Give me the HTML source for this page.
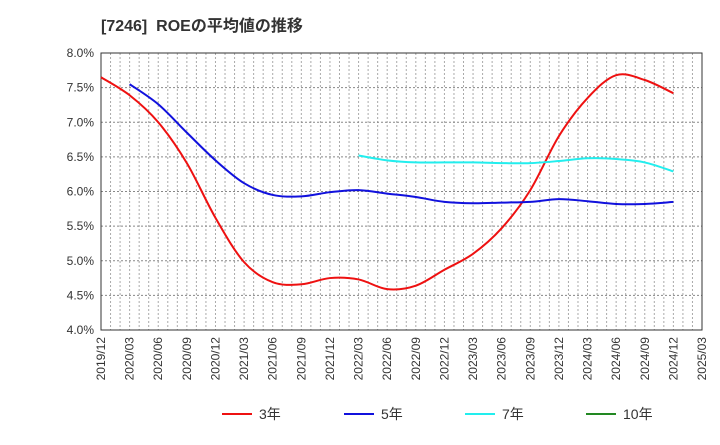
<!DOCTYPE html>
<html><head><meta charset="utf-8"><style>
body{margin:0;background:#fff;font-family:"Liberation Sans","Noto Sans CJK JP",sans-serif}
</style></head><body>
<svg id="c" width="720" height="440" xmlns="http://www.w3.org/2000/svg" font-family="Liberation Sans, Noto Sans CJK JP, sans-serif">
<text x="101" y="31" font-size="16" font-weight="bold" fill="#333" style="white-space:pre">[7246]  ROEの平均値の推移</text>
<g id="grid"></g><g id="axes"></g><g id="series"></g><g id="legend"></g>
</svg>
<script>
const xLabels=["2019/12","2020/03","2020/06","2020/09","2020/12","2021/03","2021/06","2021/09","2021/12","2022/03","2022/06","2022/09","2022/12","2023/03","2023/06","2023/09","2023/12","2024/03","2024/06","2024/09","2024/12","2025/03"];
const yTicks=[4.0,4.5,5.0,5.5,6.0,6.5,7.0,7.5,8.0];
const s3=[7.65,7.39,7.0,6.41,5.62,4.98,4.69,4.66,4.75,4.73,4.59,4.64,4.87,5.10,5.47,6.02,6.80,7.35,7.68,7.61,7.42];
const s5=[null,7.55,7.26,6.85,6.45,6.12,5.95,5.93,5.99,6.02,5.97,5.92,5.85,5.83,5.84,5.85,5.89,5.86,5.82,5.82,5.85];
const s7=[null,null,null,null,null,null,null,null,null,6.52,6.45,6.42,6.42,6.42,6.41,6.41,6.44,6.48,6.47,6.42,6.29];
const s10=[];
const L=101,R=702,T=53,B=330,NS="http://www.w3.org/2000/svg";
const xs=i=>L+(R-L)*i/(xLabels.length-1);
const ys=v=>B-(v-4)/4*(B-T);
function mk(p,t,a){const e=document.createElementNS(NS,t);for(const k in a)e.setAttribute(k,a[k]);document.getElementById(p).appendChild(e);return e;}
const step=(R-L)/((xLabels.length-1)*3);
for(let k=1;k<(xLabels.length-1)*3;k++){const l=mk('grid','line',{x1:L+k*step,x2:L+k*step,y1:T,y2:B,stroke:'#aaa','stroke-dasharray':'2,2','stroke-width':1});

}
yTicks.forEach(v=>{const l=mk('grid','line',{x1:L,x2:R,y1:ys(v),y2:ys(v),stroke:'#888','stroke-dasharray':'2,2','stroke-width':1});


const t=mk('axes','text',{x:L-7,y:ys(v)+4,'text-anchor':'end','font-size':12,fill:'#333'});t.textContent=v.toFixed(1)+'%';

});
const fr=mk('axes','rect',{x:L,y:T,width:R-L,height:B-T,fill:'none',stroke:'#333'});


xLabels.forEach((s,i)=>{const t=mk('axes','text',{transform:`translate(${xs(i)+4},${B+7}) rotate(-90)`,'text-anchor':'end','font-size':12,fill:'#333'});t.textContent=s;

});
function path(arr){const p=[];arr.forEach((v,i)=>{if(v!=null)p.push([xs(i),ys(v)])});if(p.length<2)return'';
let d=`M${p[0][0]},${p[0][1]}`;for(let i=0;i<p.length-1;i++){const p0=p[Math.max(0,i-1)],p1=p[i],p2=p[i+1],p3=p[Math.min(p.length-1,i+2)];
d+=`C${p1[0]+(p2[0]-p0[0])/6},${p1[1]+(p2[1]-p0[1])/6} ${p2[0]-(p3[0]-p1[0])/6},${p2[1]-(p3[1]-p1[1])/6} ${p2[0]},${p2[1]}`;}return d;}
const ser=[[s3,'#ee1111','3年','series-3y'],[s5,'#1111dd','5年','series-5y'],[s7,'#22eeee','7年','series-7y'],[s10,'#228822','10年','series-10y']];
ser.forEach(([a,c,n,id],k)=>{const d=path(a);if(d){const e=mk('series','path',{d,fill:'none',stroke:c,'stroke-width':2});

}
const lx=[222,344,465,586][k];
const g=mk('legend','g',{});


const ln=document.createElementNS(NS,'line');ln.setAttribute('x1',lx);ln.setAttribute('x2',lx+30);ln.setAttribute('y1',414);ln.setAttribute('y2',414);ln.setAttribute('stroke',c);ln.setAttribute('stroke-width',2);g.appendChild(ln);
const t=document.createElementNS(NS,'text');t.setAttribute('x',lx+37);t.setAttribute('y',419);t.setAttribute('font-size',14);t.setAttribute('fill','#333');t.textContent=n;g.appendChild(t);});
</script>
</body></html>
